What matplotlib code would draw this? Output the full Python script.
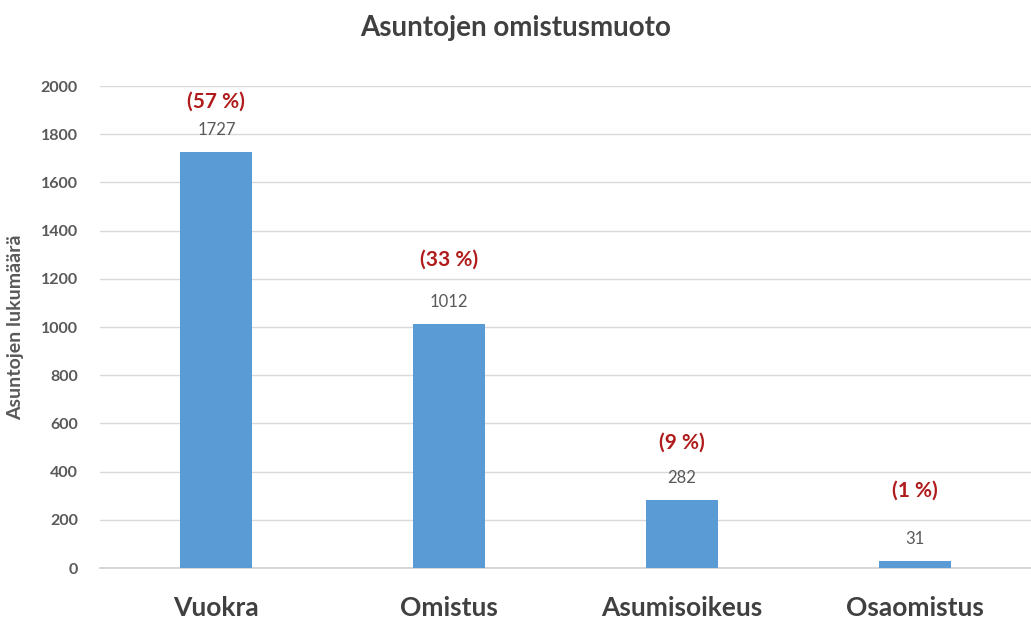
import matplotlib
matplotlib.use("Agg")
import matplotlib.pyplot as plt

categories = ["Vuokra", "Omistus", "Asumisoikeus", "Osaomistus"]
values = [1727, 1012, 282, 31]
percents = ["(57 %)", "(33 %)", "(9 %)", "(1 %)"]
yticks = list(range(0, 2001, 200))

# layout: offsets (points) of percent labels above bar tops
pct_offsets = [29, 39, 34, 43]

plt.rcParams['font.family'] = ['Lato', 'DejaVu Sans']

fig = plt.figure(figsize=(10.31, 6.28), dpi=100)
ax = fig.add_axes([0.097, 0.0955, 0.903, 0.7675])

x = list(range(len(categories)))
ax.bar(x, values, width=0.31, color="#5B9BD5", zorder=3)

ax.set_xlim(-0.5, 3.5)
ax.set_ylim(0, 2000)
ax.set_yticks(yticks)
ax.set_yticklabels([str(t) for t in yticks], fontsize=11.5, fontweight='bold', color="#595959")
ax.set_xticks(x)
ax.set_xticklabels(categories, fontsize=19, fontweight='bold', color="#404040",
                   family=['Liberation Sans Narrow', 'Lato', 'DejaVu Sans'])
ax.tick_params(axis='x', length=0, pad=20)
ax.tick_params(axis='y', length=0, pad=16)

ax.grid(axis='y', color="#d9d9d9", linewidth=1, zorder=0)
for s in ["top", "right", "left"]:
    ax.spines[s].set_visible(False)
ax.spines["bottom"].set_color("#d0d0d0")
ax.spines["bottom"].set_linewidth(1.2)

for xi, v, p, off in zip(x, values, percents, pct_offsets):
    ax.annotate(str(v), (xi, v), xytext=(0, 10), textcoords='offset points',
                ha='center', va='bottom', fontsize=12, color="#595959")
    ax.annotate(p, (xi, v), xytext=(0, off), textcoords='offset points',
                ha='center', va='bottom', fontsize=15, fontweight='bold',
                color="#B01C1C", annotation_clip=False)

ax.set_ylabel("Asuntojen lukumäärä", fontsize=14, fontweight='bold', color="#595959", labelpad=12)
fig.text(0.5, 0.955, "Asuntojen omistusmuoto", ha='center', va='center',
         fontsize=20, fontweight='bold', color="#404040")

fig.savefig("out.png", dpi=100)
